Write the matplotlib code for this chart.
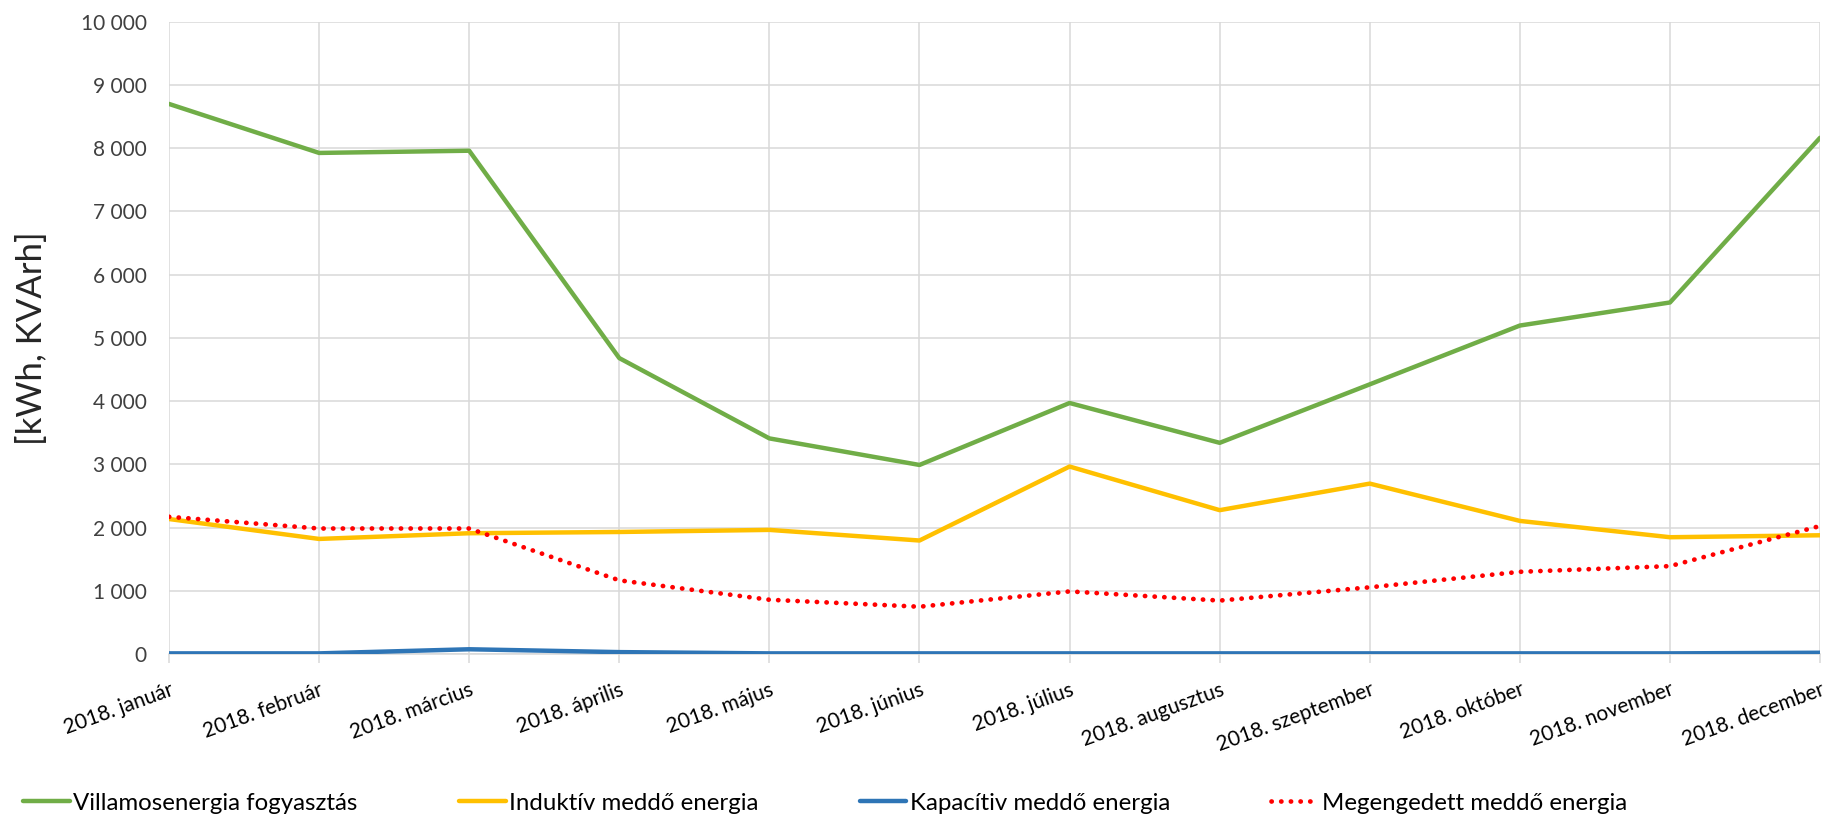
import matplotlib.pyplot as plt
from matplotlib.ticker import FuncFormatter, MultipleLocator

plt.rcParams['font.family'] = ['Lato', 'DejaVu Sans']

months = ['2018. január', '2018. február', '2018. március', '2018. április',
          '2018. május', '2018. június', '2018. július', '2018. augusztus',
          '2018. szeptember', '2018. október', '2018. november', '2018. december']

villamos = [8700, 7925, 7960, 4680, 3410, 2990, 3970, 3340, 4265, 5195, 5560, 8165]
induktiv = [2135, 1820, 1910, 1930, 1963, 1795, 2965, 2275, 2695, 2105, 1847, 1878]
kapacitiv = [10, 10, 75, 30, 10, 10, 10, 10, 10, 10, 10, 20]
megengedett = [2170, 1985, 1985, 1165, 858, 748, 990, 845, 1055, 1300, 1390, 2025]

series_names = ['Villamosenergia fogyasztás', 'Induktív meddő energia',
                'Kapacítiv meddő energia', 'Megengedett meddő energia']

fig = plt.figure(figsize=(18.25, 8.17), dpi=100)
ax = fig.add_axes([0.0926, 0.1995, 0.9047, 0.7739])

x = range(len(months))
ax.plot(x, villamos, color='#70AD47', lw=3.2, solid_capstyle='round',
        solid_joinstyle='round', label=series_names[0], zorder=3)
ax.plot(x, induktiv, color='#FFC000', lw=3.2, solid_capstyle='round',
        solid_joinstyle='round', label=series_names[1], zorder=3)
ax.plot(x, kapacitiv, color='#2E75B6', lw=3.2, solid_capstyle='round',
        solid_joinstyle='round', label=series_names[2], zorder=3)
ax.plot(x, megengedett, color='#FF0000', lw=3.4, linestyle=(0, (0.05, 2.0)),
        dash_capstyle='round', label=series_names[3], zorder=4)

ax.set_xlim(0, len(months) - 1)
ax.set_ylim(0, 10000)
ax.yaxis.set_major_locator(MultipleLocator(1000))
ax.yaxis.set_major_formatter(FuncFormatter(lambda v, p: f"{int(v):,}".replace(",", " ")))
ax.set_xticks(list(x))
ax.set_xticklabels(months, rotation=20, ha='right', va='top', rotation_mode='anchor')

ax.grid(True, color='#D9D9D9', lw=1.1, zorder=0)
for s in ['left', 'right', 'top']:
    ax.spines[s].set_visible(False)
ax.spines['bottom'].set_color('#D9D9D9')
ax.spines['bottom'].set_linewidth(1.1)

ax.tick_params(axis='y', length=0, pad=16, labelsize=15, labelcolor='#404040')
ax.tick_params(axis='x', length=6.5, width=1.1, color='#D9D9D9', pad=12,
               labelsize=15, labelcolor='#000000')

ax.set_ylabel('[kWh, KVArh]', fontsize=25, color='#262626')
ax.yaxis.set_label_coords(-0.073, 0.5)

fig.legend(loc='center left', bbox_to_anchor=(23 / 1825, 1 - 803 / 817), ncol=4,
           frameon=False, fontsize=17.3, handlelength=1.95, handletextpad=0.15,
           columnspacing=4.2, borderpad=0, borderaxespad=0)

fig.savefig('out.png', dpi=100)
